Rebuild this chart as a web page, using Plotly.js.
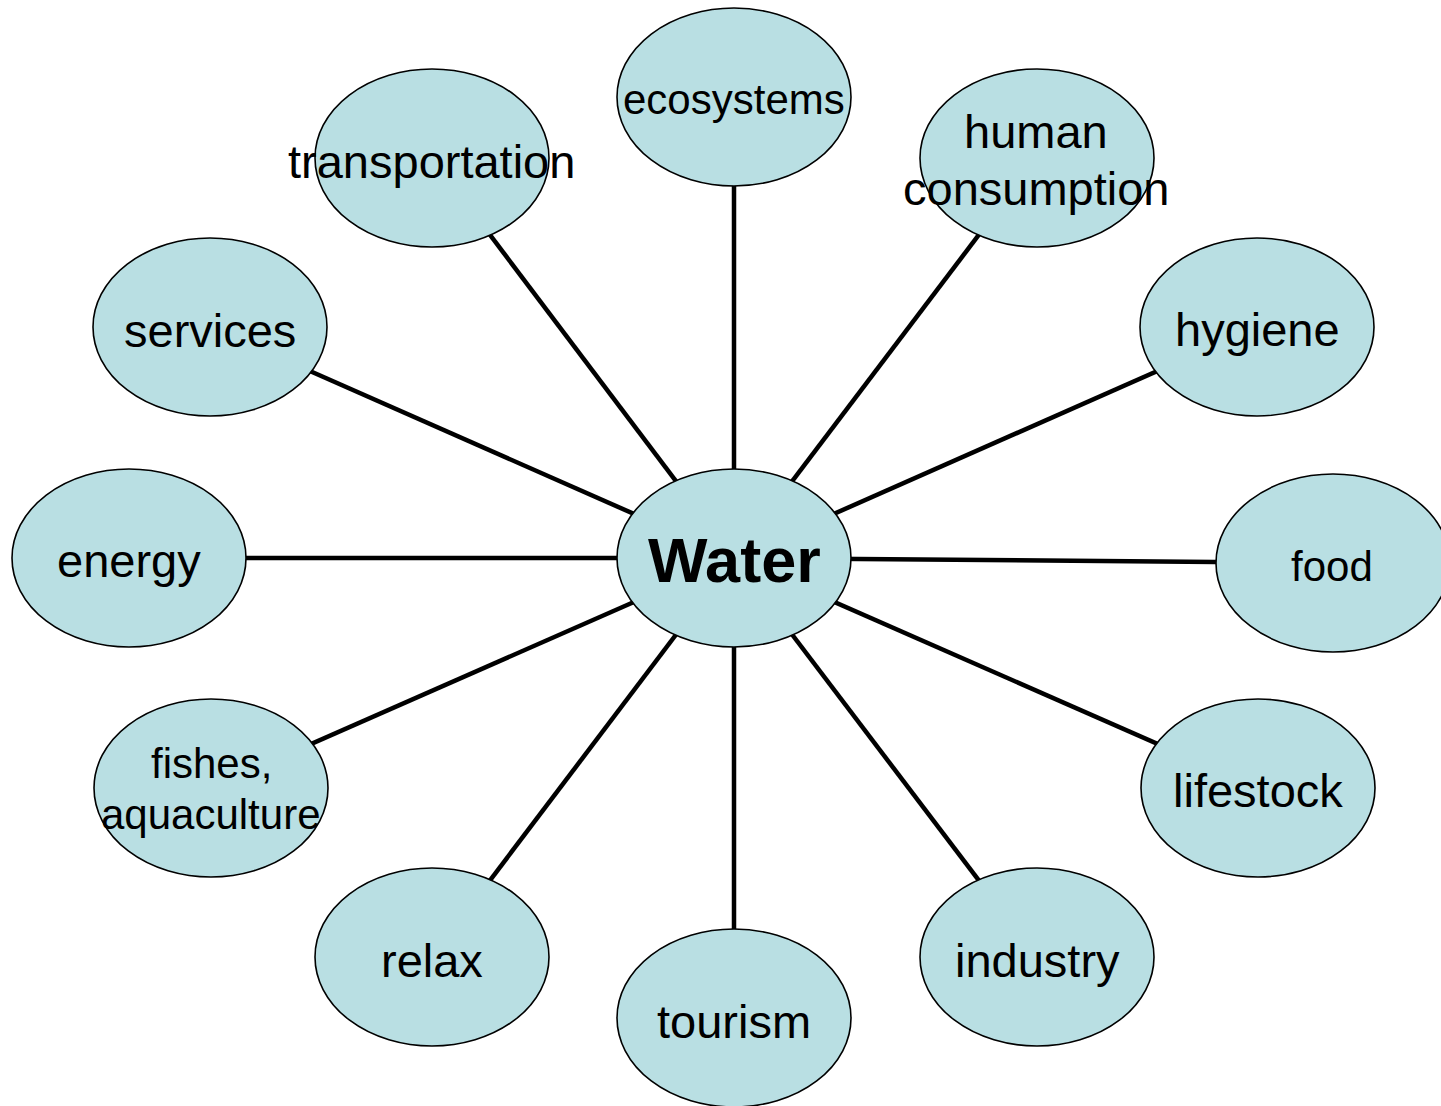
<!DOCTYPE html>
<html>
<head>
<meta charset="utf-8">
<script src="https://cdn.plot.ly/plotly-3.0.1.min.js"></script>
<style>
html,body{margin:0;padding:0;background:#fff;}
#chart{width:1441px;height:1106px;}
</style>
</head>
<body>
<div id="chart"></div>
<script>
// Hub
const hubLabel = "Water";
const hubX = 734;
const hubY = 558;

// Satellite nodes (centres)
const nodes = ["ecosystems","transportation","human<br>consumption","services","hygiene","energy","food","fishes,<br>aquaculture","lifestock","relax","tourism","industry"];
const nodeX = [734, 432, 1037, 210, 1257, 129, 1333, 211, 1258, 432, 734, 1037];
const nodeY = [97, 158, 158, 327, 327, 558, 563, 788, 788, 957, 1018, 957];

// Label anchor points (text centres)
const labelX = [734, 431, 1036, 210, 1257, 129, 1332, 211, 1258, 432, 734, 1037];
const labelY = [99, 161, 160, 330, 329, 560, 566, 789, 790, 960, 1021, 960];
const labelSize = [42, 47, 47, 47, 47, 47, 42, 42, 47, 47, 47, 47];

const RX = 117, RY = 89;
const FILL = "#b9dfe3";
const FONT = "Liberation Sans, Arial, sans-serif";

const shapes = [];
// connecting lines (below ellipses)
for (let i = 0; i < nodes.length; i++) {
  shapes.push({type:"line", xref:"x", yref:"y", x0:hubX, y0:hubY, x1:nodeX[i], y1:nodeY[i],
    line:{color:"#000", width:4.5}});
}
// satellite ellipses
for (let i = 0; i < nodes.length; i++) {
  shapes.push({type:"circle", xref:"x", yref:"y", x0:nodeX[i]-RX, x1:nodeX[i]+RX, y0:nodeY[i]-RY, y1:nodeY[i]+RY,
    fillcolor:FILL, line:{color:"#000", width:1.6}});
}
// hub ellipse
shapes.push({type:"circle", xref:"x", yref:"y", x0:hubX-RX, x1:hubX+RX, y0:hubY-RY, y1:hubY+RY,
  fillcolor:FILL, line:{color:"#000", width:1.6}});

const annotations = [];
nodes.forEach((t, i) => {
  const lines = t.split("<br>");
  const gap = labelSize[i] * 1.2;
  lines.forEach((ln, k) => {
    annotations.push({
      x: labelX[i], y: labelY[i] + (k - (lines.length - 1) / 2) * gap,
      xref:"x", yref:"y", text: ln, showarrow:false,
      xanchor:"center", yanchor:"middle", align:"center",
      font:{family:FONT, size:labelSize[i], color:"#000"}
    });
  });
});
annotations.push({x:hubX, y:hubY+2, xref:"x", yref:"y", text:"<b>"+hubLabel+"</b>", showarrow:false,
  xanchor:"center", yanchor:"middle", font:{family:FONT, size:63, color:"#000"}});

const data = [{x:[hubX], y:[hubY], type:"scatter", mode:"markers", marker:{opacity:0}, hoverinfo:"skip", showlegend:false}];

const layout = {
  width:1441, height:1106,
  margin:{l:0, r:0, t:0, b:0},
  paper_bgcolor:"#fff", plot_bgcolor:"#fff",
  xaxis:{range:[0,1441], visible:false, fixedrange:true},
  yaxis:{range:[1106,0], visible:false, fixedrange:true},
  shapes: shapes,
  annotations: annotations,
  showlegend:false
};

Plotly.newPlot("chart", data, layout, {staticPlot:true, displayModeBar:false});
</script>
</body>
</html>
